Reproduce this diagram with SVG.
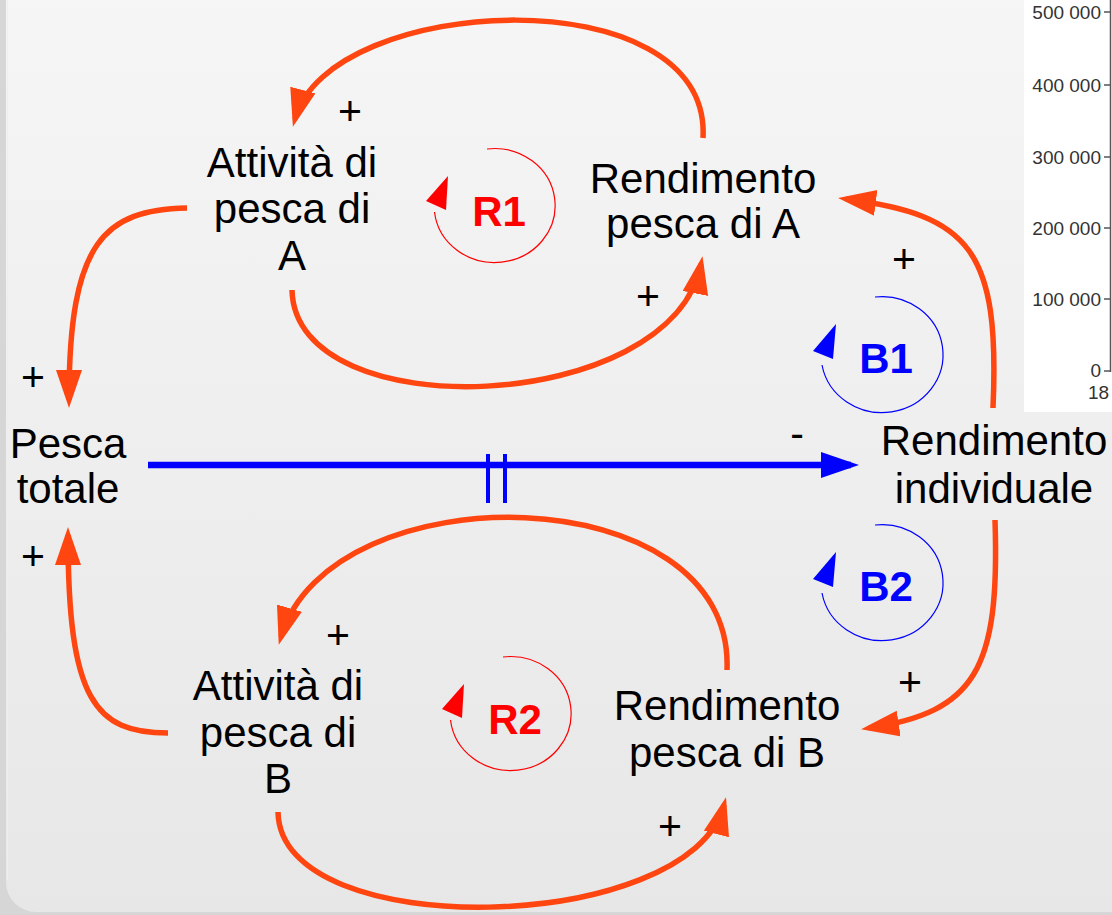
<svg xmlns="http://www.w3.org/2000/svg" width="1112" height="915" viewBox="0 0 1112 915">
<defs>
<linearGradient id="bg" x1="0" y1="0" x2="0" y2="1">
<stop offset="0" stop-color="#f6f6f6"/>
<stop offset="1" stop-color="#e7e7e7"/>
</linearGradient>
<marker id="ah" markerUnits="userSpaceOnUse" markerWidth="40" markerHeight="28" refX="30" refY="13" orient="auto">
<path d="M0,0 L38,13 L0,26 z" fill="#ff4510"/>
</marker>
<marker id="ahb" markerUnits="userSpaceOnUse" markerWidth="40" markerHeight="28" refX="30" refY="13" orient="auto">
<path d="M0,0 L38,13 L0,26 z" fill="#0000ff"/>
</marker>
<style>
.t{font-family:"Liberation Sans",Arial,sans-serif;font-size:42px;fill:#000;text-anchor:middle}
.s{font-family:"Liberation Sans",Arial,sans-serif;font-size:41px;fill:#000;text-anchor:middle}
.lr{font-family:"Liberation Sans",Arial,sans-serif;font-size:42px;font-weight:bold;fill:#ff0000;text-anchor:middle}
.lb{font-family:"Liberation Sans",Arial,sans-serif;font-size:42px;font-weight:bold;fill:#0000ff;text-anchor:middle}
.c{fill:none;stroke:#ff4510;stroke-width:5.5;marker-end:url(#ah)}
.ax{font-family:"Liberation Sans",Arial,sans-serif;font-size:19px;fill:#333;text-anchor:end}
</style>
</defs>
<rect x="0" y="0" width="1112" height="915" fill="#d6d6d6"/>
<rect x="6" y="-40" width="1150" height="952" rx="30" fill="url(#bg)"/>
<line x1="7.5" y1="0" x2="7.5" y2="880" stroke="#eeeeee" stroke-width="1"/>

<g id="chart">
<rect x="1024" y="0" width="88" height="412" fill="#ffffff"/>
<line x1="1110.5" y1="0" x2="1110.5" y2="372" stroke="#555" stroke-width="1.5"/>
<g stroke="#555" stroke-width="1.5">
<line x1="1104" y1="12" x2="1110" y2="12"/>
<line x1="1104" y1="85" x2="1110" y2="85"/>
<line x1="1104" y1="157" x2="1110" y2="157"/>
<line x1="1104" y1="228" x2="1110" y2="228"/>
<line x1="1104" y1="299" x2="1110" y2="299"/>
<line x1="1104" y1="371" x2="1110" y2="371"/>
</g>
<text class="ax" x="1101" y="19">500 000</text>
<text class="ax" x="1101" y="92">400 000</text>
<text class="ax" x="1101" y="164">300 000</text>
<text class="ax" x="1101" y="235">200 000</text>
<text class="ax" x="1101" y="306">100 000</text>
<text class="ax" x="1101" y="377">0</text>
<text class="ax" x="1088" y="399" style="text-anchor:start">18</text>
</g>

<g id="connectors">
<path class="c" d="M703,138 C712,-25 329,-7 295,119"/>
<path class="c" d="M292,290 C295,430 672,415 701,264"/>
<path class="c" d="M187,208 C105,210 69,240 69,400"/>
<path class="c" d="M168,733 C95,733 68,700 68,535"/>
<path class="c" d="M993,408 C1000,250 970,215 846,199"/>
<path class="c" d="M995,520 C1000,670 975,712 869,728"/>
<path class="c" d="M727,670 C735,475 330,470 281,637"/>
<path class="c" d="M278,812 C280,945 690,935 724,805"/>
<line x1="148" y1="465" x2="851" y2="465" stroke="#0000ff" stroke-width="6.5" marker-end="url(#ahb)"/>
<line x1="488" y1="454" x2="488" y2="503" stroke="#0000ff" stroke-width="4"/>
<line x1="505" y1="454" x2="505" y2="503" stroke="#0000ff" stroke-width="4"/>
</g>

<g id="polarities">
<text class="s" x="350" y="125">+</text>
<text class="s" x="648" y="310">+</text>
<text class="s" x="33" y="391">+</text>
<text class="s" x="33" y="570">+</text>
<text class="s" x="338" y="649">+</text>
<text class="s" x="904" y="273">+</text>
<text class="s" x="910" y="696">+</text>
<text class="s" x="670" y="840">+</text>
<text class="s" x="797" y="447">-</text>
</g>

<g id="loop-R1">
<path d="M487,149 A60.5 57 0 1 1 434.5,212" fill="none" stroke="#ff0000" stroke-width="1.2"/>
<polygon points="448,176 426,201 446,210" fill="#ff0000"/>
<text class="lr" x="499" y="226">R1</text>
</g>
<g id="loop-R2">
<path d="M503,657 A60.5 57 0 1 1 450.5,720" fill="none" stroke="#ff0000" stroke-width="1.2"/>
<polygon points="464,684 442,709 462,718" fill="#ff0000"/>
<text class="lr" x="515" y="734">R2</text>
</g>
<g id="loop-B1">
<path d="M875,297 A61 58 0 1 1 822,365" fill="none" stroke="#0000ff" stroke-width="1.2"/>
<polygon points="836,324 813,351 833,359" fill="#0000ff"/>
<text class="lb" x="886" y="373">B1</text>
</g>
<g id="loop-B2">
<path d="M875,525 A61 58 0 1 1 822,593" fill="none" stroke="#0000ff" stroke-width="1.2"/>
<polygon points="836,552 813,579 833,587" fill="#0000ff"/>
<text class="lb" x="886" y="601">B2</text>
</g>

<g id="node-attivita-A">
<text class="t" x="292" y="177">Attività di</text>
<text class="t" x="292" y="223">pesca di</text>
<text class="t" x="292" y="270">A</text>
</g>
<g id="node-rendimento-A">
<text class="t" x="703" y="193">Rendimento</text>
<text class="t" x="703" y="238">pesca di A</text>
</g>
<g id="node-pesca-totale">
<text class="t" x="68" y="458">Pesca</text>
<text class="t" x="68" y="503">totale</text>
</g>
<g id="node-rendimento-individuale">
<text class="t" x="994" y="455">Rendimento</text>
<text class="t" x="994" y="503">individuale</text>
</g>
<g id="node-attivita-B">
<text class="t" x="278" y="700">Attività di</text>
<text class="t" x="278" y="747">pesca di</text>
<text class="t" x="278" y="793">B</text>
</g>
<g id="node-rendimento-B">
<text class="t" x="727" y="720">Rendimento</text>
<text class="t" x="727" y="767">pesca di B</text>
</g>
</svg>
